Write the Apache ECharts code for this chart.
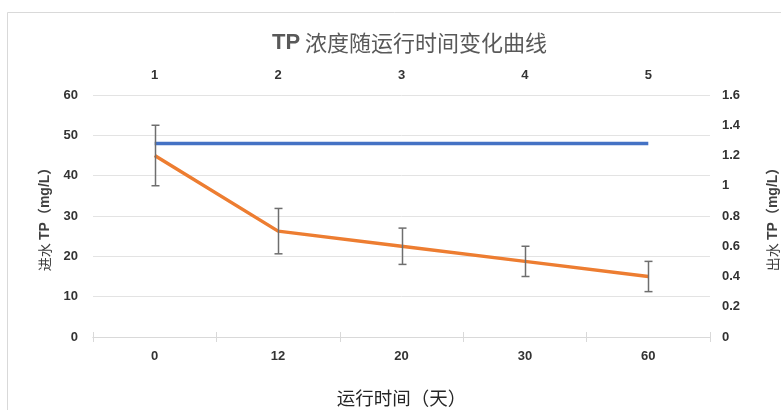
<!DOCTYPE html>
<html><head><meta charset="utf-8">
<script src="https://cdn.jsdelivr.net/npm/echarts@6/dist/echarts.min.js"></script>
<style>html,body{margin:0;padding:0;background:#fff}#c{width:781px;height:410px}</style>
</head><body><div id="c"></div>
<script>
var days = ['0','12','20','30','60'];
var topCats = ['1','2','3','4','5'];
var inflowTP = [48,48,48,48,48];
var outflowTP = [1.2,0.7,0.6,0.5,0.4];
var outflowErr = [0.2,0.15,0.12,0.1,0.1];
var leftTicks = {min:0,max:60,interval:10};
var rightTicks = {min:0,max:1.6,interval:0.2};

var chart = echarts.init(document.getElementById('c'));
var labelStyle = {color:'#333', fontWeight:'bold', fontSize:13, fontFamily:'"Liberation Sans", "Noto Sans CJK SC", sans-serif'};
var axisLineStyle = {color:'#d9d9d9', width:1};
var nameRich = {
  n:{fontSize:14, color:'#404040', fontWeight:'normal', fontFamily:'"Noto Sans CJK SC", sans-serif'},
  b:{fontSize:14, color:'#404040', fontWeight:'bold', fontFamily:'"Liberation Sans", "Noto Sans CJK SC", sans-serif'}
};
chart.setOption({
  animation:false,
  backgroundColor:'#fff',
  graphic:[{type:'rect', shape:{x:7.5,y:12.5,width:800,height:500}, style:{fill:'none', stroke:'#d9d9d9', lineWidth:1}, silent:true}],
  title:{
    text:'{b|TP} {n|浓度随运行时间变化曲线}', left:267, top:27,
    textStyle:{fontWeight:'normal', rich:{
      b:{fontSize:22, fontWeight:'bold', color:'#595959', fontFamily:'"Liberation Sans", sans-serif'},
      n:{fontSize:22, fontWeight:'normal', color:'#595959', fontFamily:'"Noto Sans CJK SC", sans-serif'}
    }}
  },
  grid:{left:93, right:71, top:95, bottom:73, containLabel:false, outerBoundsMode:'none'},
  xAxis:[
    {type:'category', position:'bottom', data:days, boundaryGap:true,
     axisLine:{lineStyle:axisLineStyle}, axisTick:{show:true, length:5, lineStyle:axisLineStyle},
     axisLabel:Object.assign({margin:13}, labelStyle),
     name:'运行时间（天）', nameLocation:'middle', nameGap:52,
     nameTextStyle:{fontSize:18.5, color:'#262626', fontFamily:'"Noto Sans CJK SC", sans-serif'}},
    {type:'category', position:'top', data:topCats, boundaryGap:true,
     axisLine:{lineStyle:axisLineStyle}, axisTick:{show:true, length:5, lineStyle:axisLineStyle},
     axisLabel:Object.assign({margin:13}, labelStyle)}
  ],
  yAxis:[
    {type:'value', position:'left', min:leftTicks.min, max:leftTicks.max, interval:leftTicks.interval,
     axisLine:{show:false}, axisTick:{show:false},
     splitLine:{lineStyle:{color:'#e3e3e3', width:1}},
     axisLabel:Object.assign({margin:15}, labelStyle),
     name:'{n|进水} {b|TP（mg/L）}', nameLocation:'middle', nameGap:41, nameRotate:90,
     nameTextStyle:{rich:nameRich}},
    {type:'value', position:'right', min:rightTicks.min, max:rightTicks.max, interval:rightTicks.interval,
     axisLine:{show:false}, axisTick:{show:false}, splitLine:{show:false},
     axisLabel:Object.assign({margin:12}, labelStyle),
     name:'{n|出水} {b|TP（mg/L）}', nameLocation:'middle', nameGap:56, nameRotate:90,
     nameTextStyle:{rich:nameRich}}
  ],
  series:[
    {type:'line', name:'进水', xAxisIndex:1, yAxisIndex:0, data:inflowTP, symbol:'none',
     lineStyle:{color:'#4472C4', width:3.5}, z:3},
    {type:'line', name:'出水', xAxisIndex:0, yAxisIndex:1, data:outflowTP, symbol:'none',
     lineStyle:{color:'#ED7D31', width:3.5}, z:3},
    {type:'custom', xAxisIndex:0, yAxisIndex:1, z:4,
     data:outflowTP.map(function(v,i){return [i, v-outflowErr[i], v+outflowErr[i]];}),
     renderItem:function(params, api){
       var lo = api.coord([api.value(0), api.value(1)]);
       var hi = api.coord([api.value(0), api.value(2)]);
       var x = Math.round(lo[0])+0.5, w = 4;
       var st = {stroke:'#6e6e6e', lineWidth:1.5};
       return {type:'group', children:[
         {type:'line', shape:{x1:x,y1:lo[1],x2:x,y2:hi[1]}, style:st},
         {type:'line', shape:{x1:x-w,y1:lo[1],x2:x+w,y2:lo[1]}, style:st},
         {type:'line', shape:{x1:x-w,y1:hi[1],x2:x+w,y2:hi[1]}, style:st}
       ]};
     }}
  ]
});
</script></body></html>
